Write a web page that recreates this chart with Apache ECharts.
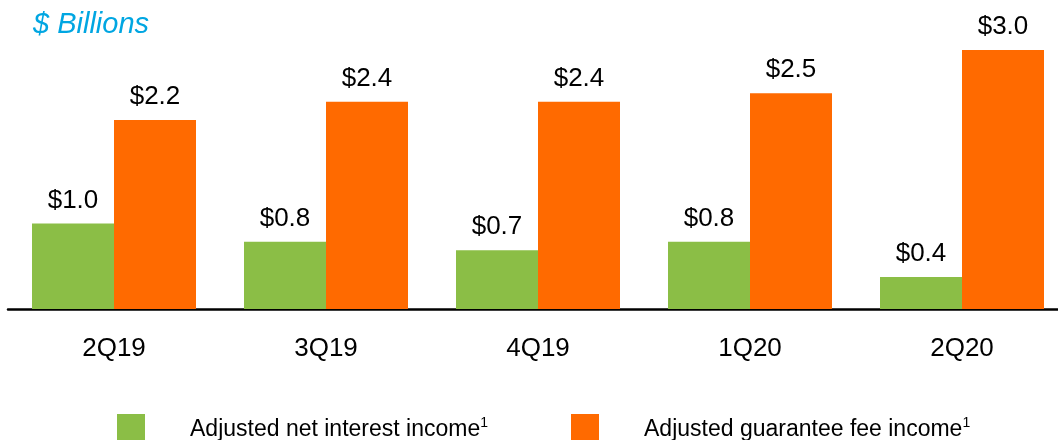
<!DOCTYPE html>
<html>
<head>
<meta charset="utf-8">
<script src="https://cdn.jsdelivr.net/npm/echarts@6/dist/echarts.min.js"></script>
<style>
  html, body { margin: 0; padding: 0; background: #fff; }
  #main { width: 1058px; height: 440px; }
</style>
</head>
<body>
<div id="main"></div>
<script>
// quarters on the x axis
var quarters = ["2Q19", "3Q19", "4Q19", "1Q20", "2Q20"];
// $ billions
var netInterest = [0.99, 0.78, 0.68, 0.78, 0.37];
var guaranteeFee = [2.19, 2.40, 2.40, 2.50, 3.00];
var seriesNames = ["Adjusted net interest income", "Adjusted guarantee fee income"];

var font = "Liberation Sans";

function legendFor(name, left) {
  return {
    data: [name],
    left: left,
    top: 409,
    icon: "rect",
    itemWidth: 28,
    itemHeight: 30,
    selectedMode: false,
    formatter: function (n) { return "{a|" + n + "}{s|1}"; },
    textStyle: {
      padding: [2, 0, 0, 40],
      rich: {
        a: { fontFamily: font, fontSize: 23, color: "#000" },
        s: { fontFamily: font, fontSize: 14, color: "#000", padding: [0, 0, 14, 0] }
      }
    }
  };
}

function barLabel() {
  return {
    show: true,
    position: "top",
    distance: 10,
    fontFamily: font,
    fontSize: 26,
    color: "#000",
    formatter: function (p) { return "$" + p.value.toFixed(1); }
  };
}

var chart = echarts.init(document.getElementById("main"), null, { renderer: "canvas" });

var option = {
  animation: false,
  backgroundColor: "#fff",
  title: {
    text: "$ Billions",
    left: 28,
    top: 5,
    textStyle: { fontFamily: font, fontSize: 29, fontStyle: "italic", fontWeight: "normal", color: "#00A6E2" }
  },
  legend: [
    legendFor(seriesNames[0], 112),
    legendFor(seriesNames[1], 566)
  ],
  // the plot runs a little past the right edge of the picture
  grid: { left: 8, right: -10, top: 50, bottom: 131, containLabel: false, outerBoundsMode: "none" },
  xAxis: {
    type: "category",
    data: quarters,
    axisLine: { lineStyle: { color: "#000", width: 2.5 } },
    axisTick: { show: false },
    axisLabel: { fontFamily: font, fontSize: 26, color: "#000", margin: 27 }
  },
  yAxis: {
    type: "value",
    min: 0,
    max: 3,
    show: false,
    splitLine: { show: false }
  },
  series: [
    {
      name: seriesNames[0],
      type: "bar",
      data: netInterest,
      barWidth: 82,
      barGap: "0%",
      itemStyle: { color: "#8BBE46" },
      label: barLabel()
    },
    {
      name: seriesNames[1],
      type: "bar",
      data: guaranteeFee,
      barWidth: 82,
      barGap: "0%",
      itemStyle: { color: "#FF6A00" },
      label: barLabel()
    }
  ]
};

chart.setOption(option);
</script>
</body>
</html>
